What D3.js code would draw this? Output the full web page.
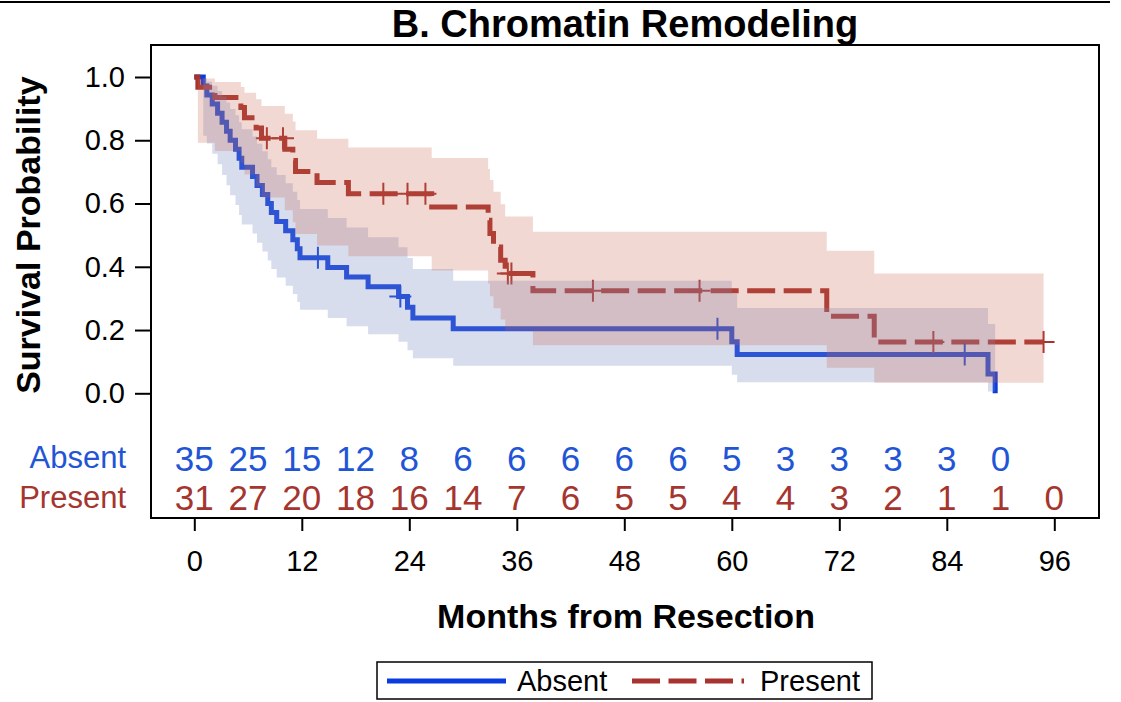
<!DOCTYPE html>
<html>
<head>
<meta charset="utf-8">
<script src="https://cdn.jsdelivr.net/npm/d3@7"></script>
<style>
  body { margin: 0; background: #fff; }
  svg { display: block; font-family: "Liberation Sans", Arial, sans-serif; }
</style>
</head>
<body>
<svg id="chart" width="1121" height="702"></svg>
<script>
// x ticks and y ticks
const monthTicks = [0, 12, 24, 36, 48, 60, 72, 84, 96];
const probTicks = [0, 0.2, 0.4, 0.6, 0.8, 1.0];

// number at risk, every 6 months
const riskMonths = [0, 6, 12, 18, 24, 30, 36, 42, 48, 54, 60, 66, 72, 78, 84, 90, 96];
const absentAtRisk = [35, 25, 15, 12, 8, 6, 6, 6, 6, 6, 5, 3, 3, 3, 3, 0];
const presentAtRisk = [31, 27, 20, 18, 16, 14, 7, 6, 5, 5, 4, 4, 3, 2, 1, 1, 0];

// Absent: step times, survival, confidence band
const absentTime = [0, 1.0, 1.4, 2.0, 2.6, 3.1, 3.6, 4.0, 4.6, 5.0, 5.3, 6.5, 7.0, 7.6, 8.2, 8.6,
  9.2, 10.2, 11.0, 11.5, 11.8, 14.9, 17.0, 19.4, 22.8, 23.8, 24.4, 28.9, 60.0, 60.6, 88.6, 89.4];
const absentSurv = [1, .9714, .9429, .9143, .8857, .8571, .8286, .8, .7714, .7429, .7143, .6857, .6571,
  .6286, .6, .5714, .5429, .5143, .4857, .4571, .4286, .398, .3673, .3367, .3061, .2721, .2381, .2041,
  .1633, .1224, .0612, 0];
const absentLower = [1, .814, .790, .757, .724, .690, .658, .626, .595, .564, .534, .505, .476, .448,
  .420, .393, .366, .340, .314, .289, .264, .238, .212, .187, .163, .136, .111, .087, .059, .035, .006, .006];
const absentUpper = [1, .996, .985, .972, .956, .938, .919, .899, .879, .857, .835, .812, .789, .765,
  .740, .715, .690, .664, .637, .611, .583, .554, .524, .493, .462, .428, .393, .356, .315, .270, .219, .219];
const absentCensor = [13.8, 23.0, 58.4, 86.0];

// Present: step times, survival, confidence band
const presentTime = [0, 0.4, 2.3, 5.2, 5.6, 6.9, 7.5, 10.1, 11.0, 11.3, 13.7, 17.2, 26.5, 32.8, 33.0,
  33.4, 34.2, 34.7, 37.8, 70.6, 75.9, 94.8];
const presentSurv = [1, .9677, .9355, .9032, .871, .8387, .8065, .7714, .7364, .7013, .6662, .6312,
  .5891, .547, .5049, .4629, .4208, .3787, .3246, .2435, .1623, .1623];
const presentLower = [1, .792, .766, .729, .692, .655, .619, .579, .541, .504, .467, .433, .388, .347,
  .307, .269, .233, .198, .152, .081, .033, .033];
const presentUpper = [1, .995, .984, .968, .950, .930, .908, .884, .859, .832, .805, .777, .744, .709,
  .674, .637, .598, .559, .511, .451, .379, .379];
const presentCensor = [8.1, 9.9, 21.1, 23.8, 25.8, 35.0, 35.4, 44.5, 56.4, 82.5, 94.8];

const blueLine = '#0b3bdc', redLine = '#a8332e';
const blueText = '#2255d6', redText = '#a5352f';

const svg = d3.select('#chart');

const x = d3.scaleLinear().domain([0, 96]).range([194.3, 1054.3]);
const y = d3.scaleLinear().domain([0, 1]).range([393.3, 77]);

const box = { left: 151, top: 45, right: 1099, bottom: 518 };

// rule at the very top
svg.append('line')
  .attr('x1', 0).attr('x2', 1110).attr('y1', 2).attr('y2', 2)
  .attr('stroke', '#000').attr('stroke-width', 2);

svg.append('text')
  .attr('x', 625).attr('y', 37)
  .attr('text-anchor', 'middle')
  .attr('font-size', '38px').attr('font-weight', 'bold')
  .text('B. Chromatin Remodeling');

function rows(times, surv, lo, hi) {
  return times.map((t, i) => ({ t: t, s: surv[i], lo: lo[i], hi: hi[i] }));
}
const absent = rows(absentTime, absentSurv, absentLower, absentUpper);
const present = rows(presentTime, presentSurv, presentLower, presentUpper);

const stepLine = d3.line().x(d => x(d.t)).y(d => y(d.s)).curve(d3.curveStepAfter);
const band = d3.area().x(d => x(d.t)).y0(d => y(d.lo)).y1(d => y(d.hi)).curve(d3.curveStepAfter);

function survAt(times, surv, t) {
  return surv[d3.bisectRight(times, t) - 1];
}

const plot = svg.append('g');

// lines first, bands are laid over them
plot.append('path').datum(absent)
  .attr('d', stepLine).attr('fill', 'none')
  .attr('stroke', blueLine).attr('stroke-width', 5);
plot.append('path').datum(present)
  .attr('d', stepLine).attr('fill', 'none')
  .attr('stroke', redLine).attr('stroke-width', 5)
  .attr('stroke-dasharray', '28,8.5');

function censorMarks(times, surv, cens, color) {
  plot.selectAll(null).data(cens).enter().append('path')
    .attr('transform', d => `translate(${x(d)},${y(survAt(times, surv, d))})`)
    .attr('d', 'M-11,0H11M0,-11V11')
    .attr('stroke', color).attr('stroke-width', 2).attr('fill', 'none');
}
censorMarks(absentTime, absentSurv, absentCensor, blueLine);
censorMarks(presentTime, presentSurv, presentCensor, redLine);

plot.append('path').datum(absent)
  .attr('d', band).attr('fill', '#7b8fc4').attr('fill-opacity', 0.3);
plot.append('path').datum(present)
  .attr('d', band).attr('fill', '#c86450').attr('fill-opacity', 0.25);

// frame
svg.append('rect')
  .attr('x', box.left).attr('y', box.top)
  .attr('width', box.right - box.left).attr('height', box.bottom - box.top)
  .attr('fill', 'none').attr('stroke', '#000').attr('stroke-width', 2);

// axes
const yAxis = svg.append('g')
  .attr('transform', `translate(${box.left},0)`)
  .call(d3.axisLeft(y).tickValues(probTicks).tickFormat(d3.format('.1f')).tickSize(16).tickPadding(10));
const xAxis = svg.append('g')
  .attr('transform', `translate(0,${box.bottom})`)
  .call(d3.axisBottom(x).tickValues(monthTicks).tickSize(13).tickPadding(19));

[yAxis, xAxis].forEach(g => {
  g.select('.domain').remove();
  g.selectAll('.tick line').attr('stroke', '#000').attr('stroke-width', 2);
  g.selectAll('.tick text')
    .attr('font-size', '29px').attr('fill', '#000')
    .attr('font-family', '"Liberation Sans", Arial, sans-serif');
});

svg.append('text')
  .attr('transform', `translate(40,${y(0.5)}) rotate(-90)`)
  .attr('text-anchor', 'middle')
  .attr('font-size', '34px').attr('font-weight', 'bold')
  .text('Survival Probability');

svg.append('text')
  .attr('x', 626).attr('y', 628)
  .attr('text-anchor', 'middle')
  .attr('font-size', '34px').attr('font-weight', 'bold')
  .text('Months from Resection');

// numbers at risk
function riskRow(counts, label, color, labelY, numY) {
  svg.append('text')
    .attr('x', 126).attr('y', labelY)
    .attr('text-anchor', 'end')
    .attr('font-size', '31px').attr('fill', color)
    .text(label);
  svg.selectAll(null).data(counts).enter().append('text')
    .attr('x', (d, i) => x(riskMonths[i])).attr('y', numY)
    .attr('text-anchor', 'middle')
    .attr('font-size', '35px').attr('fill', color)
    .text(d => d);
}
riskRow(absentAtRisk, 'Absent', blueText, 468, 471);
riskRow(presentAtRisk, 'Present', redText, 508, 510);

// legend
const legend = svg.append('g');
legend.append('rect')
  .attr('x', 377).attr('y', 662).attr('width', 495).attr('height', 37)
  .attr('fill', 'none').attr('stroke', '#000').attr('stroke-width', 1.5);
legend.append('line')
  .attr('x1', 387).attr('x2', 506).attr('y1', 681).attr('y2', 681)
  .attr('stroke', blueLine).attr('stroke-width', 5);
legend.append('text')
  .attr('x', 517).attr('y', 691).attr('font-size', '29px')
  .text('Absent');
legend.append('line')
  .attr('x1', 632).attr('x2', 744).attr('y1', 681).attr('y2', 681)
  .attr('stroke', redLine).attr('stroke-width', 5)
  .attr('stroke-dasharray', '28,8.5');
legend.append('text')
  .attr('x', 760).attr('y', 691).attr('font-size', '29px')
  .text('Present');
</script>
</body>
</html>
